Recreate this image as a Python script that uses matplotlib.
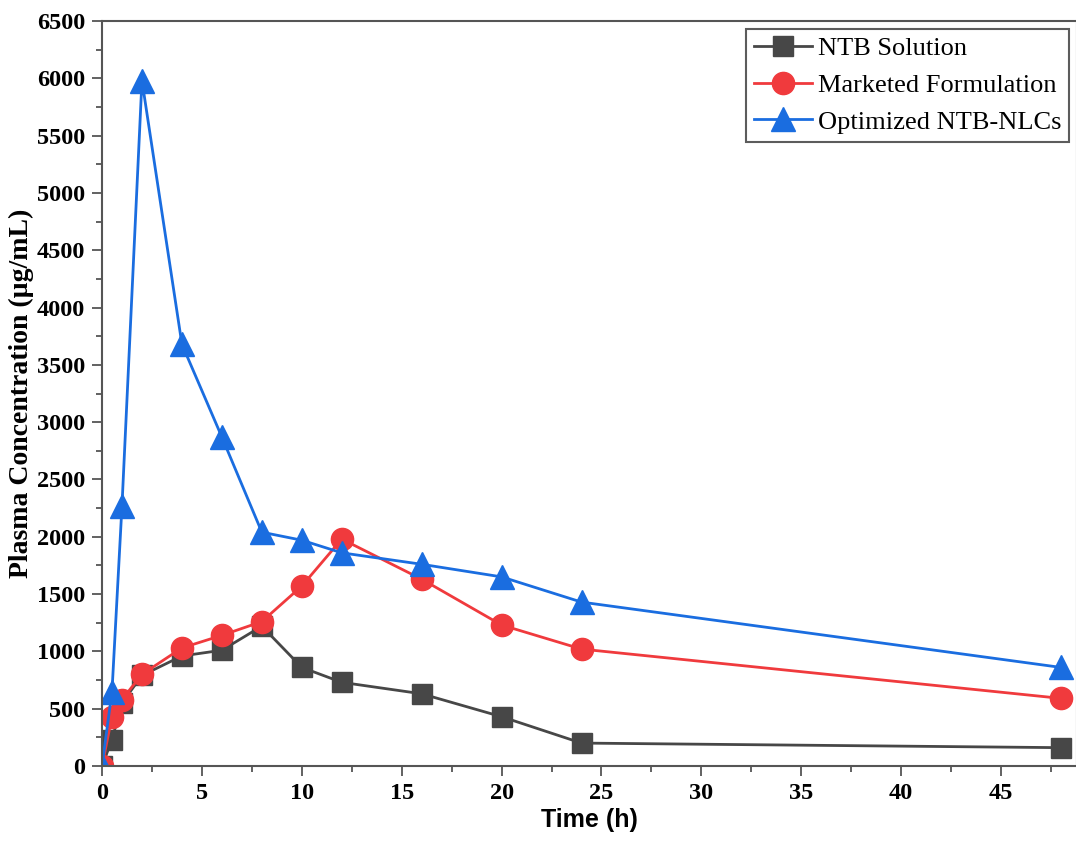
import numpy as np
import matplotlib.pyplot as plt
from matplotlib.ticker import MultipleLocator

time_h = [0, 0.5, 1, 2, 4, 6, 8, 10, 12, 16, 20, 24, 48]
ntb_solution = [0, 230, 550, 790, 960, 1010, 1220, 860, 730, 630, 430, 200, 160]
marketed = [0, 430, 580, 800, 1030, 1140, 1260, 1570, 1980, 1630, 1230, 1020, 590]
optimized = [0, 650, 2270, 5980, 3680, 2870, 2040, 1970, 1860, 1760, 1650, 1430, 860]

serif = ['Liberation Serif', 'DejaVu Serif']

fig = plt.figure(figsize=(10.76, 8.48), dpi=100)
ax = fig.add_axes([102 / 1076, 82 / 848, 975 / 1076, 745 / 848])

ax.plot(time_h, ntb_solution, '-s', color='#474747', lw=2, ms=15, label='NTB Solution')
ax.plot(time_h, marketed, '-o', color='#f03a3d', lw=2, ms=16, label='Marketed Formulation')
ax.plot(time_h, optimized, '-^', color='#1a6de0', lw=2, ms=17, label='Optimized NTB-NLCs')

ax.set_xlim(0, 48.8)
ax.set_ylim(0, 6500)
ax.xaxis.set_major_locator(MultipleLocator(5))
ax.xaxis.set_minor_locator(MultipleLocator(2.5))
ax.yaxis.set_major_locator(MultipleLocator(500))
ax.yaxis.set_minor_locator(MultipleLocator(250))
ax.tick_params(which='major', direction='out', length=7, width=1.3, color='#555555', pad=5)
ax.tick_params(which='minor', direction='out', length=4, width=1.3, color='#555555')
for sp in ax.spines.values():
    sp.set_linewidth(1.5)
    sp.set_color('#555555')

for lab in ax.get_xticklabels() + ax.get_yticklabels():
    lab.set_family(serif)
    lab.set_fontweight('bold')
    lab.set_fontsize(17.5)

ax.set_xlabel('Time (h)', family=['Liberation Sans', 'DejaVu Sans'], fontweight='bold', fontsize=18, labelpad=3)
ax.set_ylabel('Plasma Concentration (µg/mL)', family=serif, fontweight='bold', fontsize=20, labelpad=2)

leg = ax.legend(loc='upper right', prop={'family': serif, 'size': 19}, frameon=True, fancybox=False,
                edgecolor='#333333', handlelength=2.2, handletextpad=0.2, borderpad=0.3,
                labelspacing=0.5, borderaxespad=0.3, markerscale=1.0)
leg.get_frame().set_linewidth(1.5)

fig.savefig('out.png', dpi=100)
plt.close(fig)
